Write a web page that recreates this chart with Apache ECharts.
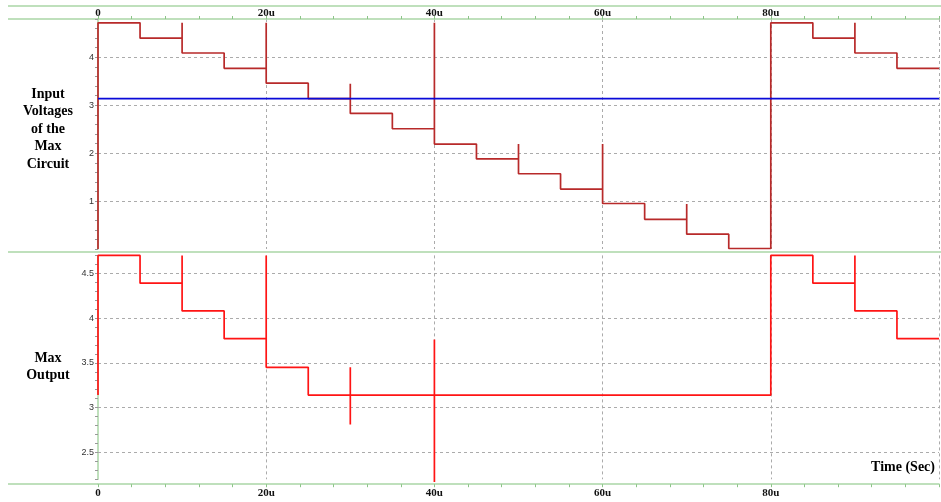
<!DOCTYPE html>
<html>
<head>
<meta charset="utf-8">
<script src="https://cdn.jsdelivr.net/npm/echarts@6/dist/echarts.min.js"></script>
<style>
  html, body { margin: 0; padding: 0; background: #fff; }
  #chart { width: 941px; height: 502px; }
</style>
</head>
<body>
<div id="chart"></div>
<script>
// time in microseconds, step waveforms with switching glitches
const inputTime = [0, 0, 5, 5, 10, 10, 10, 15, 15, 20, 20, 20, 25, 25, 30, 30, 30, 35, 35, 40, 40, 40, 45, 45, 50, 50, 50, 55, 55, 60, 60, 60, 65, 65, 70, 70, 70, 75, 75, 80, 80, 85, 85, 90, 90, 90, 95, 95, 100]
const inputVolt = [0, 4.72, 4.72, 4.40, 4.40, 4.72, 4.09, 4.09, 3.77, 3.77, 4.72, 3.46, 3.46, 3.14, 3.14, 3.45, 2.83, 2.83, 2.51, 2.51, 4.72, 2.19, 2.19, 1.88, 1.88, 2.19, 1.57, 1.57, 1.25, 1.25, 2.19, 0.95, 0.95, 0.62, 0.62, 0.94, 0.31, 0.31, 0.01, 0.01, 4.72, 4.72, 4.40, 4.40, 4.72, 4.09, 4.09, 3.77, 3.77]

const refTime = [0, 100]
const refVolt = [3.14, 3.14]

const outTime = [0, 0, 5, 5, 10, 10, 10, 15, 15, 20, 20, 20, 25, 25, 30, 30, 30, 30, 40, 40, 40, 40, 80, 80, 85, 85, 90, 90, 90, 95, 95, 100]
const outVolt = [3.14, 4.70, 4.70, 4.39, 4.39, 4.70, 4.08, 4.08, 3.77, 3.77, 4.70, 3.45, 3.45, 3.14, 3.14, 3.45, 2.81, 3.14, 3.14, 3.76, 2.17, 3.14, 3.14, 4.70, 4.70, 4.39, 4.39, 4.70, 4.08, 4.08, 3.77, 3.77]

const topGridValues = [1, 2, 3, 4]
const bottomGridValues = [2.5, 3, 3.5, 4, 4.5]

const serif = '"Liberation Serif", "DejaVu Serif", serif'
const green = '#aad6a6'
const gridGray = '#ababab'

const chart = echarts.init(document.getElementById('chart'), null, { renderer: 'canvas' })

const gridLines = (values) => ({
  silent: true,
  symbol: 'none',
  z: 1,
  animation: false,
  label: { show: false },
  emphasis: { disabled: true },
  lineStyle: { color: gridGray, type: [3, 3], width: 1 },
  data: values.map(v => ({ yAxis: v }))
})

const xAxisBase = {
  type: 'value',
  min: 0,
  max: 100,
  interval: 20,
  axisLine: { show: true, onZero: false, lineStyle: { color: green, width: 1.5 } },
  axisTick: { show: true, length: 3, lineStyle: { color: '#8cc488' } },
  minorTick: { show: true, splitNumber: 5, length: 3, lineStyle: { color: '#8cc488' } },
  axisLabel: {
    color: '#111',
    fontFamily: serif,
    fontWeight: 'bold',
    fontSize: 11,
    margin: 3,
    showMaxLabel: false,
    formatter: v => (v === 0 ? '0' : v + 'u')
  },
  splitLine: {
    show: true,
    showMinLine: false,
    lineStyle: { color: gridGray, type: [3, 3], width: 1 }
  }
}

const yAxisBase = {
  type: 'value',
  axisLine: { show: true, onZero: false, lineStyle: { color: green, width: 1.5 } },
  axisTick: { show: true, length: 3, lineStyle: { color: '#999' } },
  splitLine: { show: false },
  axisLabel: {
    color: '#333',
    fontFamily: '"Liberation Sans", Arial, sans-serif',
    fontSize: 9,
    margin: 4
  }
}

chart.setOption({
  animation: false,
  grid: [
    { left: 98, right: 2, top: 19, height: 230 },
    { left: 98, right: 2, top: 255.4, height: 223.8 }
  ],
  xAxis: [
    Object.assign({}, xAxisBase, {
      gridIndex: 0,
      position: 'top',
      axisLabel: Object.assign({}, xAxisBase.axisLabel, { margin: 0 })
    }),
    Object.assign({}, xAxisBase, { gridIndex: 1, position: 'bottom', offset: 5 })
  ],
  yAxis: [
    Object.assign({}, yAxisBase, {
      gridIndex: 0,
      min: 0,
      max: 4.8,
      interval: 0.2,
      axisLabel: Object.assign({}, yAxisBase.axisLabel, {
        formatter: v => (topGridValues.some(t => Math.abs(t - v) < 1e-6) ? String(Math.round(v)) : '')
      })
    }),
    Object.assign({}, yAxisBase, {
      gridIndex: 1,
      min: 2.2,
      max: 4.7,
      interval: 0.1,
      axisLabel: Object.assign({}, yAxisBase.axisLabel, {
        formatter: v => {
          const hit = bottomGridValues.find(t => Math.abs(t - v) < 1e-6)
          return hit === undefined ? '' : String(hit)
        }
      })
    })
  ],
  series: [
    {
      name: 'Inputs',
      type: 'line',
      xAxisIndex: 0,
      yAxisIndex: 0,
      data: inputTime.map((t, i) => [t, inputVolt[i]]),
      symbol: 'none',
      clip: false,
      z: 3,
      lineStyle: { color: '#b82a2a', width: 1.7 },
      markLine: gridLines(topGridValues)
    },
    {
      name: 'Reference',
      type: 'line',
      xAxisIndex: 0,
      yAxisIndex: 0,
      data: refTime.map((t, i) => [t, refVolt[i]]),
      symbol: 'none',
      z: 4,
      lineStyle: { color: '#0a0ad8', width: 1.7 }
    },
    {
      name: 'Max Output',
      type: 'line',
      xAxisIndex: 1,
      yAxisIndex: 1,
      data: outTime.map((t, i) => [t, outVolt[i]]),
      symbol: 'none',
      clip: false,
      z: 3,
      lineStyle: { color: '#ff1414', width: 1.7 },
      markLine: gridLines(bottomGridValues)
    }
  ],
  graphic: [
    { type: 'line', silent: true, shape: { x1: 8, y1: 6, x2: 941, y2: 6 }, style: { stroke: green, lineWidth: 1.5 } },
    { type: 'line', silent: true, shape: { x1: 8, y1: 19, x2: 98, y2: 19 }, style: { stroke: green, lineWidth: 1.5 } },
    { type: 'line', silent: true, shape: { x1: 8, y1: 252, x2: 941, y2: 252 }, style: { stroke: green, lineWidth: 1.5 } },
    { type: 'line', silent: true, shape: { x1: 8, y1: 484, x2: 98, y2: 484 }, style: { stroke: green, lineWidth: 1.5 } },
    {
      type: 'text', silent: true,
      style: {
        text: 'Input\nVoltages\nof the\nMax\nCircuit',
        x: 48, y: 129,
        fill: '#000',
        font: 'bold 14px ' + serif,
        align: 'center',
        verticalAlign: 'middle',
        lineHeight: 17.5
      }
    },
    {
      type: 'text', silent: true,
      style: {
        text: 'Max\nOutput',
        x: 48, y: 367,
        fill: '#000',
        font: 'bold 14px ' + serif,
        align: 'center',
        verticalAlign: 'middle',
        lineHeight: 17.5
      }
    },
    {
      type: 'text', silent: true,
      style: {
        text: 'Time (Sec)',
        x: 935, y: 467.5,
        fill: '#000',
        font: 'bold 14px ' + serif,
        align: 'right',
        verticalAlign: 'middle'
      }
    }
  ]
})

window.addEventListener('resize', () => chart.resize())
</script>
</body>
</html>
